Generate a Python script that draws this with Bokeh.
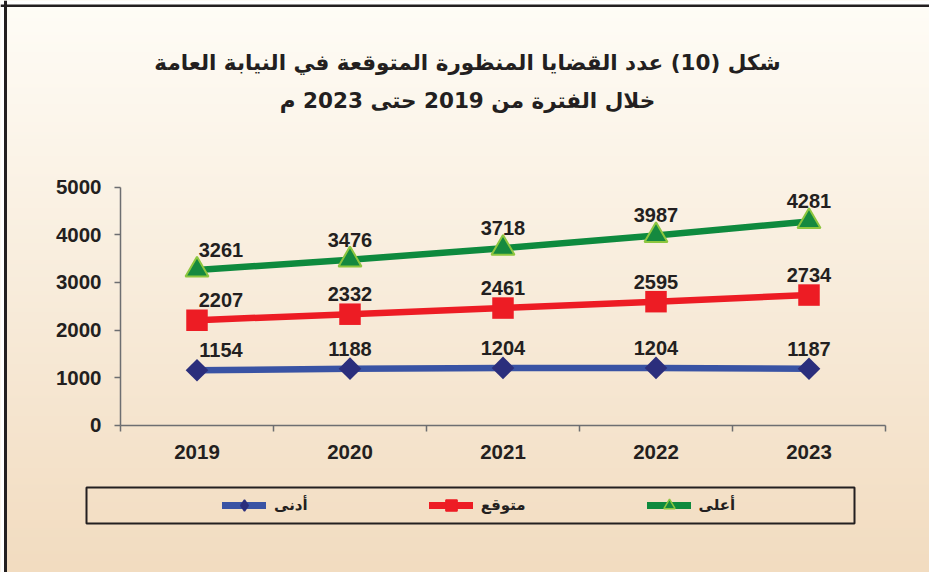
import numpy as np
from bokeh.plotting import figure
from bokeh.models import (Range1d, LinearAxis, FixedTicker, ColumnDataSource, LabelSet,
                          Label, Legend, LegendItem, BoxAnnotation, Span)
from bokeh.core.properties import value
from bokeh.embed import file_html
from bokeh.resources import INLINE

# ---------------- data ----------------
years = ["2019", "2020", "2021", "2022", "2023"]
low = [1154, 1188, 1204, 1204, 1187]        # أدنى
expected = [2207, 2332, 2461, 2595, 2734]   # متوقع
high = [3261, 3476, 3718, 3987, 4281]       # أعلى
y_ticks = [0, 1000, 2000, 3000, 4000, 5000]
series_names = ["أدنى", "متوقع", "أعلى"]
title_line1 = "شكل (10) عدد القضايا المنظورة المتوقعة في النيابة العامة"
title_line2 = "خلال الفترة من 2019 حتى 2023 م"

# ---------------- layout ----------------
W, H = 929, 572
# page pixel of category i : 196.5 + 153*i ; page pixel of value v : 424.7 - 0.0476*v
PX0, PXS = 196.5, 153.0
PY0, PYS = 424.7, 0.0476
X0, X1 = (0 - PX0) / PXS, (W - PX0) / PXS
Y0, Y1 = (PY0 - H) / PYS, PY0 / PYS


def dx(cx):
    return X0 + cx / W * (X1 - X0)


def dy(cy):
    return Y1 - cy / H * (Y1 - Y0)


TXT = "#231f20"
NUM_FONT = "Liberation Sans"
AR_FONT = "DejaVu Sans"

p = figure(width=W, height=H, x_range=Range1d(X0, X1), y_range=Range1d(Y0, Y1),
           x_axis_type=None, y_axis_type=None, toolbar_location=None,
           output_backend="svg", min_border=0, outline_line_color=None,
           border_fill_color="#fbf3e6", background_fill_color="#fbf3e6")

# background gradient
top = np.array([255, 253, 247], float)
bot = np.array([242, 220, 192], float)
t = np.linspace(0, 1, H)[:, None]           # 0 = bottom row
cols = bot * (1 - t) + top * t
img = np.zeros((H, 1), dtype=np.uint32)
view = img.view(dtype=np.uint8).reshape((H, 1, 4))
view[:, 0, 0] = cols[:, 0]
view[:, 0, 1] = cols[:, 1]
view[:, 0, 2] = cols[:, 2]
view[:, 0, 3] = 255
p.image_rgba(image=[img], x=X0, y=Y0, dw=X1 - X0, dh=Y1 - Y0)

# white margin outside the frame border, then the border (left and top)
p.add_layout(BoxAnnotation(left=dx(0), right=dx(3.5), fill_color="white", fill_alpha=1, line_alpha=0))
p.add_layout(BoxAnnotation(top=dy(0), bottom=dy(4), fill_color="white", fill_alpha=1, line_alpha=0))
p.add_layout(Span(location=dx(5), dimension="height", line_color=TXT, line_width=3))
p.add_layout(Span(location=dy(5.2), dimension="width", line_color=TXT, line_width=2.5))

# axes
yaxis = LinearAxis(fixed_location=-0.5, bounds=(0, 5000), ticker=FixedTicker(ticks=y_ticks),
                   axis_line_color="#6d6e71", axis_line_width=1.5,
                   major_tick_line_color="#6d6e71", major_tick_line_width=1.5,
                   major_tick_in=0, major_tick_out=6, minor_tick_line_color=None,
                   major_label_text_font=NUM_FONT, major_label_text_font_style="bold",
                   major_label_text_font_size="20.5px", major_label_text_color=TXT,
                   major_label_standoff=13)
p.add_layout(yaxis, "left")

idx = list(range(len(years)))
xaxis = LinearAxis(fixed_location=0, bounds=(-0.5, len(years) - 0.5),
                   ticker=FixedTicker(ticks=idx, minor_ticks=[i - 0.5 for i in range(len(years) + 1)]),
                   major_label_overrides={i: y for i, y in enumerate(years)},
                   axis_line_color="#6d6e71", axis_line_width=1.5,
                   major_tick_in=0, major_tick_out=0,
                   minor_tick_line_color="#6d6e71", minor_tick_line_width=1.5,
                   minor_tick_in=0, minor_tick_out=6,
                   major_label_text_font=NUM_FONT, major_label_text_font_style="bold",
                   major_label_text_font_size="20.5px", major_label_text_color=TXT,
                   major_label_standoff=14)
p.add_layout(xaxis, "below")

# series
styles = [
    dict(vals=low, line="#3953a4", marker="square", angle=np.pi / 4, size=16, lw=0,
         fill="#2b2e7c", outline="#2b2e7c", lmarker="diamond"),
    dict(vals=expected, line="#ed1c24", marker="square", angle=0, size=21.5, lw=0,
         fill="#ed1c24", outline="#ed1c24", lmarker="square"),
    dict(vals=high, line="#0e8a3e", marker="triangle", angle=0, size=23, lw=2,
         fill="#15893f", outline="#8dc63f", lmarker="triangle"),
]
items = []
for name, st in zip(series_names, styles):
    src = ColumnDataSource(dict(x=idx, y=st["vals"], lab=[str(v) for v in st["vals"]],
                                xo=[24 if i == 0 else 0 for i in idx]))
    p.line("x", "y", source=src, line_color=st["line"], line_width=6.5)
    p.scatter("x", "y", source=src, marker=st["marker"], angle=st["angle"], size=st["size"],
              fill_color=st["fill"], line_color=st["outline"], line_width=st["lw"],
              line_alpha=1 if st["lw"] else 0)
    p.add_layout(LabelSet(x="x", y="y", text="lab", source=src, x_offset="xo", y_offset=13,
                          text_align="center", text_baseline="alphabetic",
                          text_font=value(NUM_FONT), text_font_style="bold",
                          text_font_size="20px", text_color=TXT))
    # legend-only glyphs (a single undrawn NaN point)
    lr = p.line([np.nan], [np.nan], line_color=st["line"], line_width=7, line_cap="round")
    mr = p.scatter([np.nan], [np.nan], marker=st["lmarker"], fill_color=st["fill"],
                   line_color=st["outline"], line_width=1.5)
    items.append(LegendItem(label=name, renderers=[lr, mr]))

# titles
for txt, ypix in [(title_line1, 62), (title_line2, 100)]:
    p.add_layout(Label(x=dx(467), y=dy(ypix), text=txt, text_align="center",
                       text_baseline="middle", text_font=AR_FONT, text_font_style="bold",
                       text_font_size="21.5px", text_color=TXT))

# legend box + legend
p.add_layout(BoxAnnotation(left=dx(86), right=dx(854), top=dy(487), bottom=dy(523),
                           fill_alpha=0, line_color=TXT, line_alpha=1, line_width=2))
legend = Legend(items=items, orientation="horizontal", location=(222, 53),
                glyph_width=44, glyph_height=28, label_height=28, label_standoff=8, spacing=121,
                padding=0, margin=0, border_line_alpha=0, background_fill_alpha=0,
                label_text_font=AR_FONT, label_text_font_style="bold",
                label_text_font_size="15px", label_text_color=TXT)
p.add_layout(legend, "center")

open("out.html", "w").write(file_html(p, INLINE))
